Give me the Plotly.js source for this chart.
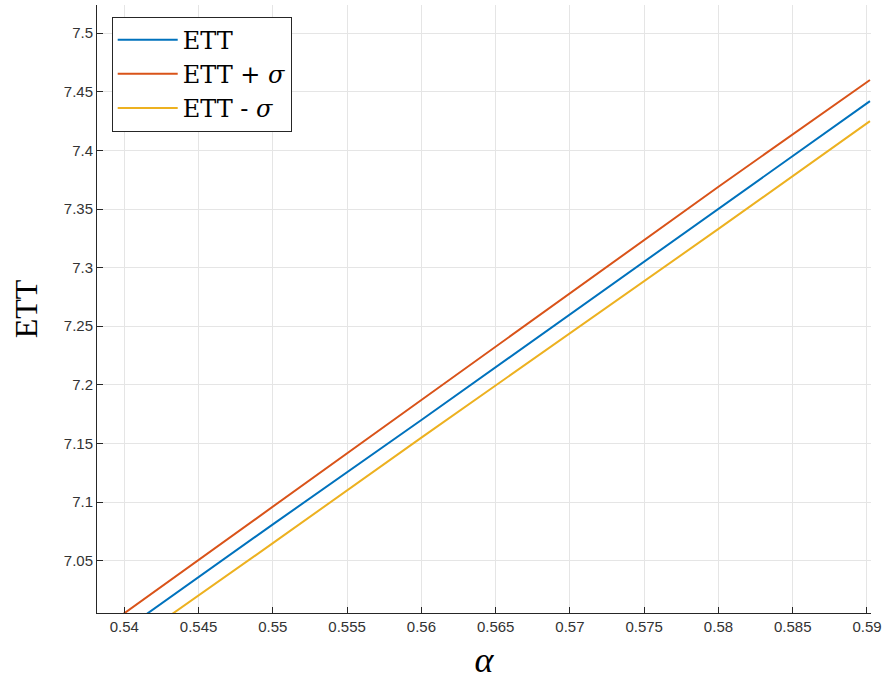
<!DOCTYPE html>
<html>
<head>
<meta charset="utf-8">
<script src="https://cdn.plot.ly/plotly-3.0.1.min.js"></script>
<style>html,body{margin:0;padding:0;background:#fff}#plot{width:888px;height:683px}</style>
</head>
<body>
<div id="plot"></div>
<script>
// Data
const alpha = [0.538, 0.55, 0.56, 0.57, 0.58, 0.5902];
const ett = [6.973, 7.081, 7.170, 7.260, 7.350, 7.442];
const ettPlus = [6.987, 7.096, 7.187, 7.278, 7.369, 7.460];
const ettMinus = [6.958, 7.065, 7.155, 7.244, 7.333, 7.425];
const seriesNames = ['ETT', 'ETT + <i>σ</i>', 'ETT - <i>σ</i>'];
const xTicks = [0.54, 0.545, 0.55, 0.555, 0.56, 0.565, 0.57, 0.575, 0.58, 0.585, 0.59];
const yTicks = [7.05, 7.1, 7.15, 7.2, 7.25, 7.3, 7.35, 7.4, 7.45, 7.5];

const colors = ['#0072BD', '#D95319', '#EDB120'];
const ys = [ett, ettPlus, ettMinus];
const traces = ys.map((y, i) => ({
  x: alpha, y: y, type: 'scatter', mode: 'lines', name: seriesNames[i],
  line: {color: colors[i], width: 2}
}));

const serif = 'Liberation Serif, DejaVu Serif, serif';
const tickFont = {family: 'Liberation Sans, Arial, sans-serif', size: 15, color: '#333333'};
const layout = {
  width: 888, height: 683,
  margin: {l: 97, r: 17, t: 5, b: 70},
  paper_bgcolor: '#ffffff', plot_bgcolor: '#ffffff',
  showlegend: true,
  legend: {
    x: 0.019, y: 0.981, xanchor: 'left', yanchor: 'top',
    bgcolor: '#ffffff', bordercolor: '#262626', borderwidth: 1,
    font: {family: 'DejaVu Serif, serif', size: 24, color: '#000000'},
    tracegroupgap: 0, itemwidth: 60
  },
  xaxis: {
    range: [0.53816, 0.59027],
    tickvals: xTicks, ticktext: xTicks.map(String),
    ticks: 'inside', ticklen: 6, tickcolor: '#262626',
    showline: true, linecolor: '#262626', linewidth: 1, mirror: false,
    showgrid: true, gridcolor: '#e5e5e5', gridwidth: 1, zeroline: false,
    tickfont: tickFont,
    title: {text: '<i>α</i>', font: {family: serif, size: 36, color: '#000'}, standoff: 12}
  },
  yaxis: {
    range: [7.0054, 7.524],
    tickvals: yTicks, ticktext: yTicks.map(String),
    ticks: 'inside', ticklen: 6, tickcolor: '#262626',
    showline: true, linecolor: '#262626', linewidth: 1, mirror: false,
    showgrid: true, gridcolor: '#e5e5e5', gridwidth: 1, zeroline: false,
    tickfont: tickFont,
    title: {text: 'ETT', font: {family: serif, size: 32, color: '#000'}, standoff: 16}
  }
};
Plotly.newPlot('plot', traces, layout, {displayModeBar: false, staticPlot: true});
</script>
</body>
</html>
